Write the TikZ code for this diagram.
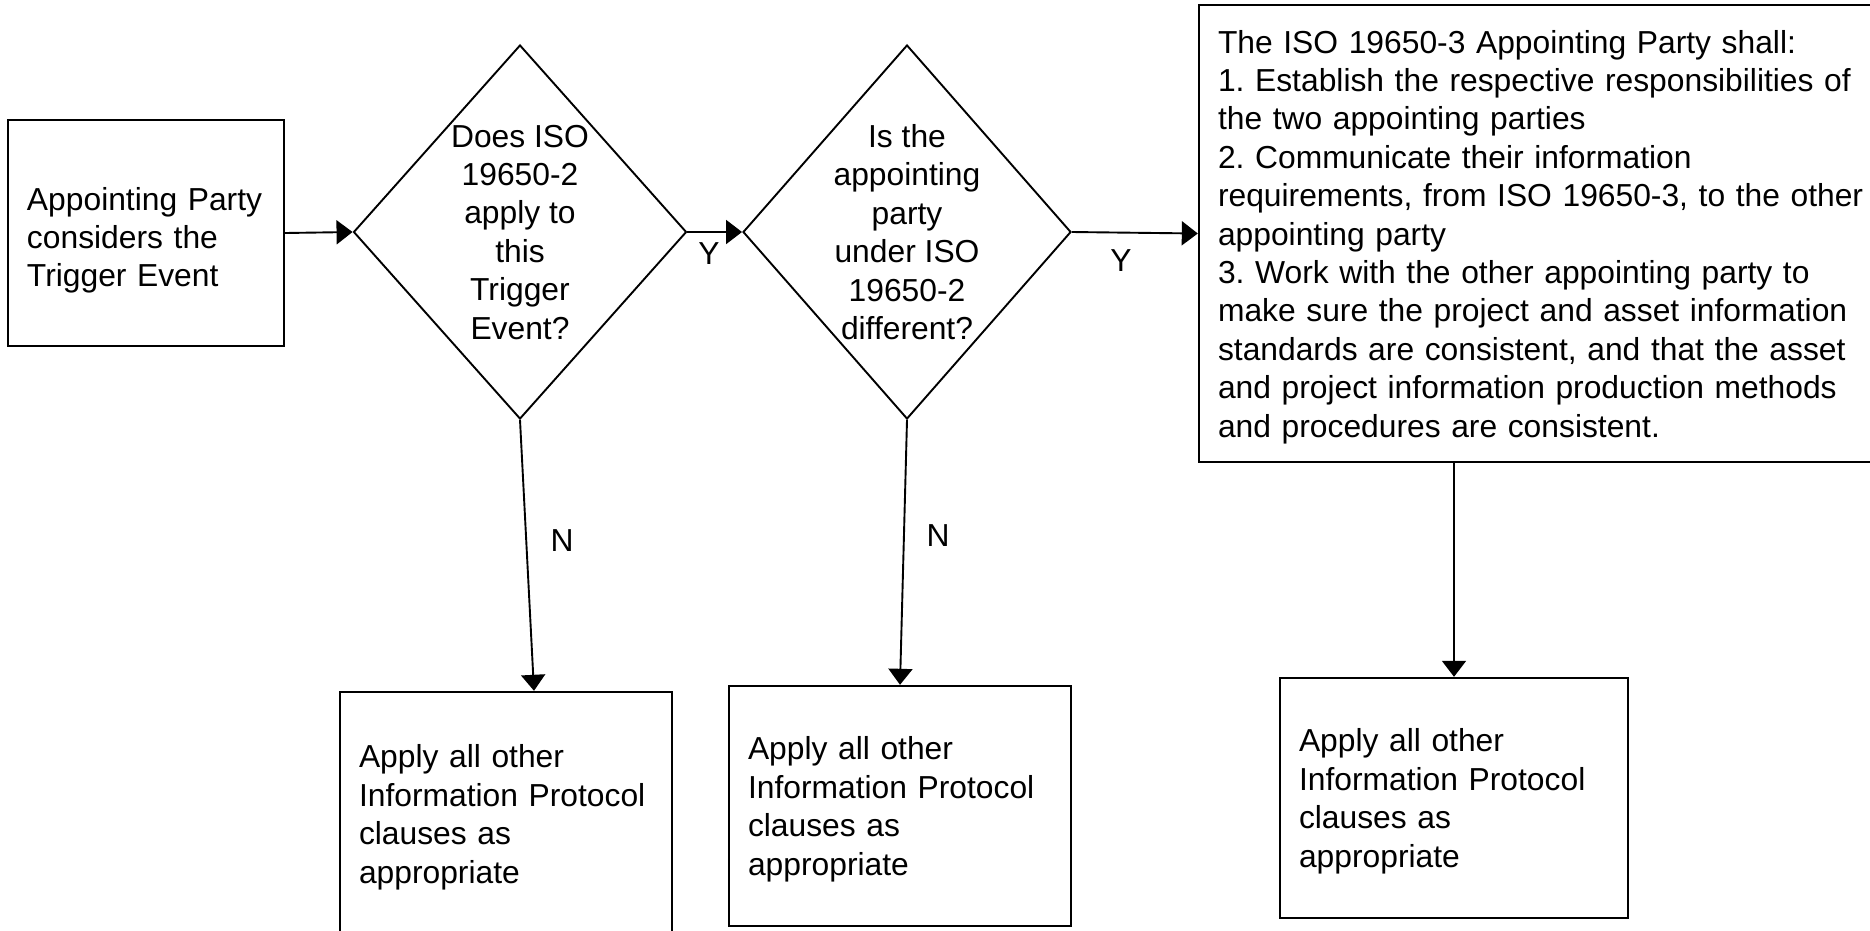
\documentclass[tikz,border=0pt]{standalone}
\usepackage{fontspec}
\setmainfont{Liberation Sans}
\usetikzlibrary{shapes.geometric,arrows.meta}
\frenchspacing
\begin{document}
\begin{tikzpicture}[x=1pt,y=-1pt,
  every node/.style={font=\fontsize{31.8}{38.4}\selectfont, text=black},
  procbox/.style={draw, line width=2.4pt, rectangle, inner xsep=19pt, inner ysep=0pt,
    align=left},
  lines/.style={text depth={(#1-1)*38.4pt}},
  decision/.style={draw, line width=1.9pt, diamond, inner sep=0pt},
  qtext/.style={align=center, text depth=0pt, inner sep=0pt},
  flow/.style={line width=1.9pt, -{Triangle[length=16pt,width=24pt]}},
  branch/.style={inner sep=0pt}
]
\clip (0,0) rectangle (1870,930);

% start box
\node[procbox, lines=3, text height=31pt, minimum width=276pt, minimum height=226pt, text width=238pt] (start) at (146,233)
  {Appointing Party\\considers the\\Trigger Event};

% decisions
\node[decision, minimum width=333pt, minimum height=374pt] (d1) at (520,232) {};
\node[qtext] (d1t) at (d1.center) {Does ISO\\19650-2\\apply to\\this\\Trigger\\Event?};
\node[decision, minimum width=328pt, minimum height=374pt] (d2) at (907,232) {};
\node[qtext] (d2t) at (d2.center) {Is the\\appointing\\party\\under ISO\\19650-2\\different?};

% duties of the ISO 19650-3 appointing party
\node[procbox, lines=11, minimum width=691pt, minimum height=457pt, text width=653pt] (duty) at (1544.5,233.5)
  {The ISO 19650-3 Appointing Party shall:\\
   1. Establish the respective responsibilities of\\
   the two appointing parties\\
   2. Communicate their information\\
   requirements, from ISO 19650-3, to the other\\
   appointing party\\
   3. Work with the other appointing party to\\
   make sure the project and asset information\\
   standards are consistent, and that the asset\\
   and project information production methods\\
   and procedures are consistent.};

% outcome boxes
\node[procbox, lines=4, minimum width=332pt, minimum height=244pt, text width=294pt] (out1) at (506,814)
  {Apply all other\\Information Protocol\\clauses as\\appropriate};
\node[procbox, lines=4, minimum width=342pt, minimum height=240pt, text width=304pt] (out2) at (900,806)
  {Apply all other\\Information Protocol\\clauses as\\appropriate};
\node[procbox, lines=4, minimum width=348pt, minimum height=240pt, text width=310pt] (out3) at (1454,798)
  {Apply all other\\Information Protocol\\clauses as\\appropriate};

% connectors
\draw[flow] (start.east) -- (d1.west);
\draw[flow] (d1.east) -- (d2.west);
\draw[flow] (d2.east) -- (duty.west);
\draw[flow] (d1.south) -- ([xshift=28pt]out1.north);
\draw[flow] (d2.south) -- (out2.north);
\draw[flow] (out3.north |- duty.south) -- (out3.north);

% branch labels
\node[branch] (y1) at (709,254) {Y};
\node[branch] (y2) at (1121,261) {Y};
\node[branch] (n1) at (562,541) {N};
\node[branch] (n2) at (938,536) {N};
\end{tikzpicture}
\end{document}
